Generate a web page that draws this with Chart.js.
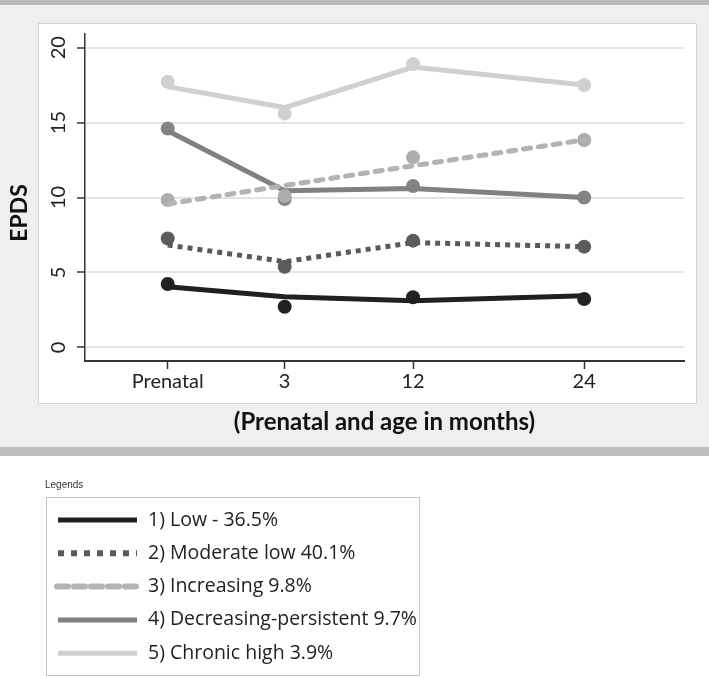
<!DOCTYPE html>
<html>
<head>
<meta charset="utf-8">
<script src="https://cdn.jsdelivr.net/npm/chart.js@4.4.1/dist/chart.umd.min.js"></script>
<style>
  html, body { margin: 0; padding: 0; background: #fff; }
  canvas { display: block; }
</style>
</head>
<body>
<canvas id="epds" width="709" height="678"></canvas>
<script>
// --- DATA ---
const timeLabels = ['Prenatal', '3', '12', '24'];
const timePositions = [-5.2, 3, 12, 24];
const yTicks = [0, 5, 10, 15, 20];
const seriesNames = ['1) Low - 36.5%', '2) Moderate low 40.1%', '3) Increasing 9.8%', '4) Decreasing-persistent 9.7%', '5) Chronic high 3.9%'];

const lowObserved = [4.23, 2.71, 3.34, 3.23];
const lowEstimated = [4.05, 3.38, 3.11, 3.45];
const modLowObserved = [7.27, 5.38, 7.12, 6.72];
const modLowEstimated = [6.83, 5.72, 6.99, 6.72];
const increasingObserved = [9.83, 10.1, 12.68, 13.84];
const increasingEstimated = [9.57, 10.8, 12.12, 13.84];
const decreasingObserved = [14.6, 9.9, 10.77, 10.0];
const decreasingEstimated = [14.45, 10.45, 10.6, 10.0];
const chronicObserved = [17.73, 15.6, 18.9, 17.5];
const chronicEstimated = [17.4, 16.0, 18.7, 17.5];

const observed = [lowObserved, modLowObserved, increasingObserved, decreasingObserved, chronicObserved];
const estimated = [lowEstimated, modLowEstimated, increasingEstimated, decreasingEstimated, chronicEstimated];

// --- STYLES ---
const seriesStyles = [
    { line: '#202020', point: '#222222', dash: [], cap: 'butt', legendDash: [], legendCap: 'butt' },
    { line: '#5a5a5a', point: '#5c5c5c', dash: [5, 5], cap: 'butt', legendDash: [6, 7], legendCap: 'butt' },
    { line: '#b3b3b3', point: '#adadad', dash: [7, 8], cap: 'round', legendDash: [11, 6], legendCap: 'round' },
    { line: '#818181', point: '#848484', dash: [], cap: 'butt', legendDash: [], legendCap: 'butt' },
    { line: '#d0d0d0', point: '#d0d0d0', dash: [], cap: 'butt', legendDash: [], legendCap: 'butt' }
];

const toPoints = arr => timePositions.map((x, i) => ({ x: x, y: arr[i] }));

const datasets = [];
seriesNames.forEach((name, i) => {
    const st = seriesStyles[i];
    datasets.push({
        label: name,
        data: toPoints(estimated[i]),
        borderColor: st.line, borderWidth: 5, borderDash: st.dash, borderCapStyle: st.cap,
        pointRadius: 0, fill: false, tension: 0
    });
    datasets.push({
        label: name + ' observed',
        data: toPoints(observed[i]),
        showLine: false, pointRadius: 7, pointBackgroundColor: st.point, pointBorderWidth: 0
    });
});

// --- PLUGINS ---
const panelPlugin = {
    id: 'panel',
    beforeDraw(chart) {
        const ctx = chart.ctx;
        ctx.save();
        ctx.fillStyle = '#ffffff';
        ctx.fillRect(0, 0, chart.width, chart.height);
        ctx.fillStyle = '#efefef';
        ctx.fillRect(0, 5, chart.width, 442);
        ctx.fillStyle = '#b9b9b9';
        ctx.fillRect(0, 0, chart.width, 5);
        ctx.fillStyle = '#bdbdbd';
        ctx.fillRect(0, 447, chart.width, 9);
        ctx.fillStyle = '#ffffff';
        ctx.fillRect(38, 23, 658, 380);
        ctx.strokeStyle = '#d4d4d4';
        ctx.lineWidth = 1;
        ctx.strokeRect(38.5, 23.5, 658, 380);
        ctx.restore();
    }
};

const axisTextPlugin = {
    id: 'axisText',
    afterDraw(chart) {
        const ctx = chart.ctx;
        const y = chart.scales.y;
        ctx.save();
        ctx.fillStyle = '#222';
        ctx.textAlign = 'center';
        ctx.textBaseline = 'middle';
        ctx.font = '20px Lato';
        yTicks.forEach(v => {
            ctx.save();
            ctx.translate(59, y.getPixelForValue(v));
            ctx.rotate(-Math.PI / 2);
            ctx.fillText(String(v), 0, 0);
            ctx.restore();
        });
        ctx.font = 'bold 23px Lato';
        ctx.fillStyle = '#111';
        ctx.translate(20, 213);
        ctx.rotate(-Math.PI / 2);
        ctx.fillText('EPDS', 0, 0);
        ctx.restore();
    }
};

const legendBoxPlugin = {
    id: 'legendBox',
    afterDraw(chart) {
        const ctx = chart.ctx;
        ctx.save();
        ctx.fillStyle = '#333';
        ctx.font = '10px "Liberation Sans"';
        ctx.textBaseline = 'middle';
        ctx.fillText('Legends', 45, 485);
        ctx.strokeStyle = '#c4c4c4';
        ctx.lineWidth = 1;
        ctx.strokeRect(46.5, 497.5, 373, 178);
        seriesNames.forEach((name, i) => {
            const st = seriesStyles[i];
            const rowY = 520 + i * 33.3;
            ctx.beginPath();
            ctx.strokeStyle = st.line;
            ctx.lineWidth = i === 1 || i === 2 ? 6 : 5;
            ctx.setLineDash(st.legendDash);
            ctx.lineCap = st.legendCap;
            ctx.moveTo(i === 2 ? 57 : 58, rowY);
            ctx.lineTo(i === 2 ? 139 : 137, rowY);
            ctx.stroke();
            ctx.setLineDash([]);
            ctx.fillStyle = '#222';
            ctx.font = '19.5px "Open Sans"';
            ctx.fillText(name, 148, rowY);
        });
        ctx.restore();
    }
};

// --- CHART ---
new Chart(document.getElementById('epds'), {
    type: 'line',
    data: { datasets: datasets },
    options: {
        responsive: false,
        animation: false,
        layout: { padding: { top: 34, right: 25, bottom: 233, left: 0 } },
        plugins: { legend: { display: false }, tooltip: { enabled: false } },
        scales: {
            x: {
                type: 'linear', min: -11, max: 31,
                afterBuildTicks: s => { s.ticks = timePositions.map(v => ({ value: v })); },
                afterFit: s => { s.height = 84; },
                ticks: {
                    callback: (v, i) => timeLabels[i],
                    font: { family: 'Lato', size: 20 }, color: '#222',
                    padding: 1, maxRotation: 0, autoSkip: false
                },
                grid: { drawOnChartArea: false, drawTicks: true, tickLength: 8, tickColor: '#333', tickWidth: 1.5 },
                border: { color: '#333', width: 2 },
                title: {
                    display: true, text: '(Prenatal and age in months)',
                    font: { family: 'Lato', size: 24, weight: 'bold' }, color: '#111',
                    padding: { top: 4, bottom: 8 }
                }
            },
            y: {
                type: 'linear', min: -0.91, max: 20.91,
                afterBuildTicks: s => { s.ticks = yTicks.map(v => ({ value: v })); },
                afterFit: s => { s.width = 85; },
                ticks: { display: false },
                grid: { color: '#e4e4e4', lineWidth: 2, tickLength: 8, tickColor: '#333', tickWidth: 1.5 },
                border: { color: '#333', width: 1.5 }
            }
        }
    },
    plugins: [panelPlugin, axisTextPlugin, legendBoxPlugin]
});
</script>
</body>
</html>
